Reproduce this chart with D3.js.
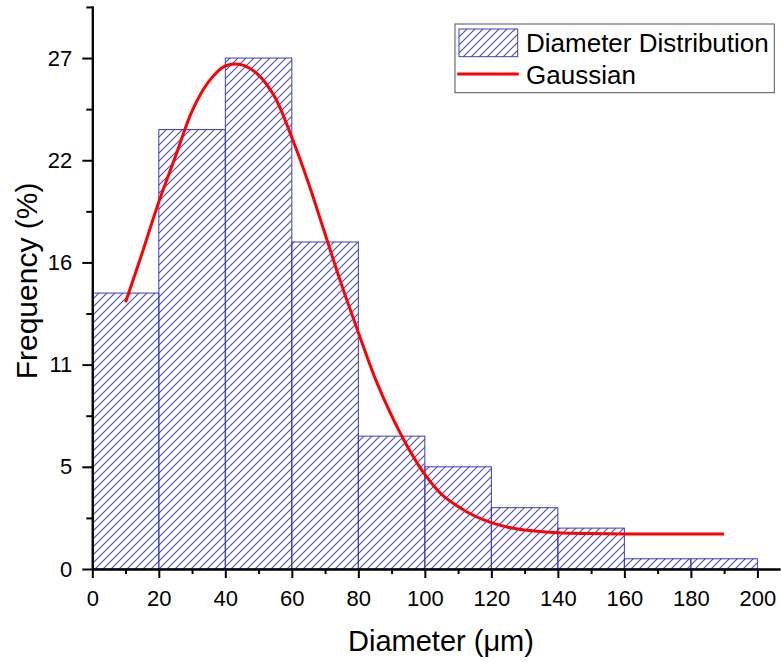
<!DOCTYPE html>
<html>
<head>
<meta charset="utf-8">
<script src="https://cdn.jsdelivr.net/npm/d3@7"></script>
<style>
  html, body { margin: 0; padding: 0; background: #fff; }
  svg { display: block; font-family: "Liberation Sans", Arial, sans-serif; }
</style>
</head>
<body>
<svg id="chart" width="781" height="662"></svg>
<script>
// Histogram bins (µm) and frequency (%)
const binStarts = [0, 20, 40, 60, 80, 100, 120, 140, 160, 180];
const binWidth = 20;
const frequencies = [14.58, 23.22, 27.0, 17.28, 7.02, 5.4, 3.24, 2.16, 0.54, 0.54];

// Gaussian fit curve samples
const fitX = [10, 15, 20, 25, 30, 35, 40, 45, 50, 55, 60, 65, 70, 75, 80, 85, 90, 95, 100,
              105, 110, 115, 120, 125, 130, 140, 150, 160, 170, 180, 190];
const fitY = [14.1, 16.7, 19.4, 21.8, 24.2, 25.75, 26.58, 26.64, 26.1, 24.9, 22.8, 20.4, 17.7, 15.0, 12.5,
              10.1, 8.1, 6.4, 5.0, 3.95, 3.3, 2.8, 2.45, 2.21, 2.06, 1.91, 1.87, 1.85, 1.85, 1.85, 1.85];

// Axis ticks
const xTicks = [0, 20, 40, 60, 80, 100, 120, 140, 160, 180, 200];
const xMinorTicks = [10, 30, 50, 70, 90, 110, 130, 150, 170, 190];
const yTicks = [0, 5.4, 10.8, 16.2, 21.6, 27];
const yTickLabels = ["0", "5", "11", "16", "22", "27"];
const yMinorTicks = [2.7, 8.1, 13.5, 18.9, 24.3, 29.7];

const legendLabels = ["Diameter Distribution", "Gaussian"];
const xTitle = "Diameter (\u03bcm)";
const yTitle = "Frequency (%)";

const svg = d3.select("#chart");

const x = d3.scaleLinear().domain([0, 206.8]).range([92.3, 780]);
const y = d3.scaleLinear().domain([0, 29.75]).range([569, 6]);

const hatchColor = "#4a4ac6";
const barStroke = "#3c3cc2";

// Diagonal hatch fill
const defs = svg.append("defs");
const pat = defs.append("pattern")
  .attr("id", "hatch")
  .attr("patternUnits", "userSpaceOnUse")
  .attr("width", 8).attr("height", 8);
pat.append("path")
  .attr("d", "M-2,2 l4,-4 M0,8 l8,-8 M6,10 l4,-4")
  .attr("stroke", hatchColor)
  .attr("stroke-width", 1.1)
  .attr("fill", "none");

// Bars
svg.append("g").selectAll("rect")
  .data(binStarts.map((s, i) => ({ s, v: frequencies[i] })))
  .join("rect")
  .attr("x", d => x(d.s))
  .attr("y", d => y(d.v))
  .attr("width", d => x(d.s + binWidth) - x(d.s))
  .attr("height", d => y(0) - y(d.v))
  .attr("fill", "url(#hatch)")
  .attr("stroke", barStroke)
  .attr("stroke-width", 1);

// Gaussian curve
const line = d3.line()
  .x((d, i) => x(fitX[i]))
  .y(d => y(d))
  .curve(d3.curveCatmullRom.alpha(0.5));
svg.append("path")
  .attr("d", line(fitY))
  .attr("fill", "none")
  .attr("stroke", "#ff0000")
  .attr("stroke-width", 3);

// X axis
const xAxis = svg.append("g").attr("transform", `translate(0,${y(0)})`);
xAxis.call(d3.axisBottom(x).tickValues(xTicks).tickSize(9).tickPadding(12).tickSizeOuter(0));
xAxis.append("g").call(d3.axisBottom(x).tickValues(xMinorTicks).tickSize(5).tickFormat("").tickSizeOuter(0));
xAxis.selectAll(".domain").attr("stroke", "#000").attr("stroke-width", 2);
xAxis.selectAll(".tick line").attr("stroke", "#000").attr("stroke-width", 2);
xAxis.selectAll(".tick text").attr("font-size", 22).attr("fill", "#000")
  .attr("font-family", "Liberation Sans, Arial, sans-serif");

// Y axis
const yAxis = svg.append("g").attr("transform", `translate(${x(0)},0)`);
yAxis.call(d3.axisLeft(y).tickValues(yTicks).tickSize(10).tickPadding(10).tickSizeOuter(0)
  .tickFormat((d, i) => yTickLabels[i]));
yAxis.append("g").call(d3.axisLeft(y).tickValues(yMinorTicks).tickSize(6).tickFormat("").tickSizeOuter(0));
yAxis.selectAll(".domain").attr("stroke", "#000").attr("stroke-width", 2);
yAxis.selectAll(".tick line").attr("stroke", "#000").attr("stroke-width", 2);
yAxis.selectAll(".tick text").attr("font-size", 22).attr("fill", "#000")
  .attr("font-family", "Liberation Sans, Arial, sans-serif");

// Axis titles
svg.append("text")
  .attr("x", 441).attr("y", 651)
  .attr("text-anchor", "middle")
  .attr("font-size", 29)
  .text(xTitle);
svg.append("text")
  .attr("transform", "translate(37,281) rotate(-90)")
  .attr("text-anchor", "middle")
  .attr("font-size", 30)
  .text(yTitle);

// Legend
const lg = svg.append("g");
lg.append("rect")
  .attr("x", 455).attr("y", 24).attr("width", 319.3).attr("height", 68.7)
  .attr("fill", "#fff").attr("stroke", "#555").attr("stroke-width", 1);
lg.append("rect")
  .attr("x", 459).attr("y", 29).attr("width", 58.7).attr("height", 27.7)
  .attr("fill", "url(#hatch)").attr("stroke", barStroke).attr("stroke-width", 1);
lg.append("line")
  .attr("x1", 457.3).attr("x2", 518.7).attr("y1", 74).attr("y2", 74)
  .attr("stroke", "#ff0000").attr("stroke-width", 3);
lg.selectAll("text.lbl")
  .data(legendLabels)
  .join("text")
  .attr("class", "lbl")
  .attr("x", 526)
  .attr("y", (d, i) => [52, 83.5][i])
  .attr("font-size", 26)
  .text(d => d);
</script>
</body>
</html>
